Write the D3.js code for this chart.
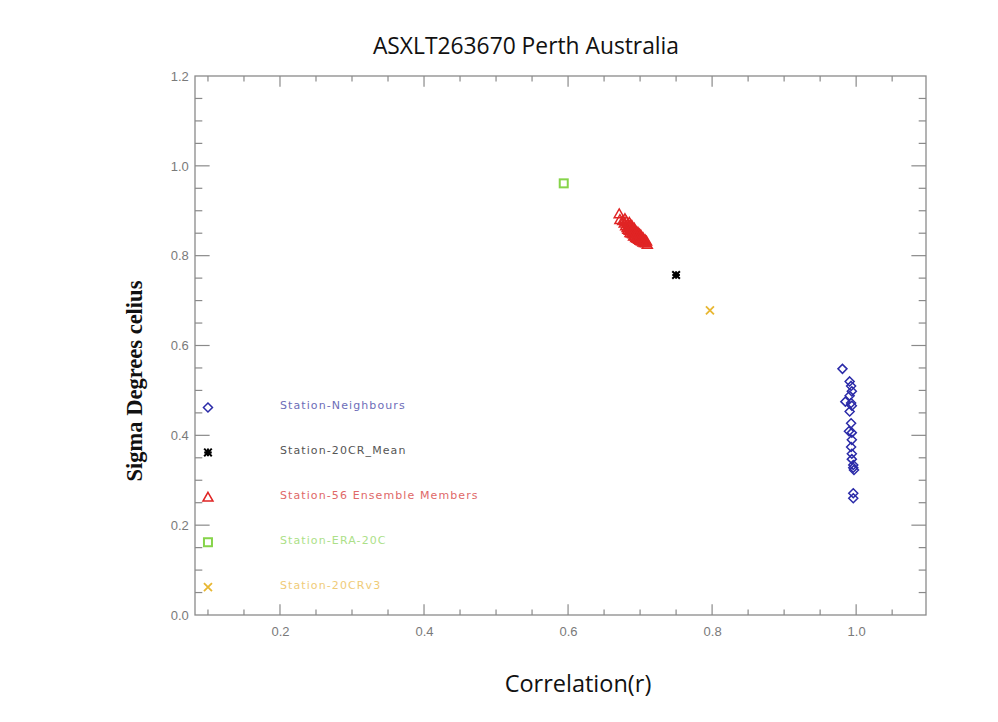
<!DOCTYPE html>
<html>
<head>
<meta charset="utf-8">
<script src="https://cdn.jsdelivr.net/npm/d3@7"></script>
<style>
  html, body { margin: 0; padding: 0; background: #fff; }
  svg { display: block; }
</style>
</head>
<body>
<svg id="chart" width="998" height="722"></svg>
<script>
// Station vs. neighbours / reanalyses: correlation and standard deviation
const titleText = "ASXLT263670 Perth Australia";
const xLabelText = "Correlation(r)";
const yLabelText = "Sigma Degrees celius";

const xTicks = [0.2, 0.4, 0.6, 0.8, 1.0];
const yTicks = [0.0, 0.2, 0.4, 0.6, 0.8, 1.0, 1.2];

// Station-Neighbours
const neighR = [0.981, 0.991, 0.993, 0.994, 0.991, 0.985, 0.993, 0.994, 0.991, 0.993, 0.990, 0.994,
                0.994, 0.993, 0.994, 0.994, 0.996, 0.997, 0.996, 0.996, 0.996];
const neighS = [0.548, 0.520, 0.510, 0.498, 0.488, 0.475, 0.472, 0.466, 0.453, 0.427, 0.409, 0.406,
                0.390, 0.374, 0.359, 0.347, 0.334, 0.323, 0.328, 0.271, 0.260];

// Station-56 Ensemble Members
const ensR = [0.671, 0.672, 0.676, 0.678, 0.679, 0.680, 0.681, 0.682, 0.683, 0.683, 0.684, 0.685,
              0.685, 0.686, 0.686, 0.687, 0.687, 0.688, 0.688, 0.689, 0.689, 0.690, 0.690, 0.691,
              0.691, 0.692, 0.692, 0.693, 0.693, 0.694, 0.694, 0.695, 0.695, 0.696, 0.696, 0.697,
              0.697, 0.698, 0.698, 0.699, 0.699, 0.700, 0.700, 0.701, 0.701, 0.702, 0.702, 0.703,
              0.704, 0.704, 0.705, 0.706, 0.707, 0.708, 0.709, 0.710];
const ensS = [0.893, 0.880, 0.878, 0.872, 0.882, 0.866, 0.876, 0.862, 0.871, 0.858, 0.866, 0.874,
              0.856, 0.865, 0.851, 0.869, 0.857, 0.863, 0.850, 0.857, 0.866, 0.848, 0.859, 0.854,
              0.843, 0.861, 0.849, 0.844, 0.856, 0.850, 0.840, 0.853, 0.844, 0.838, 0.849, 0.842,
              0.852, 0.836, 0.846, 0.839, 0.848, 0.834, 0.844, 0.837, 0.846, 0.832, 0.841, 0.836,
              0.830, 0.840, 0.834, 0.829, 0.835, 0.828, 0.832, 0.825];

// Single-value comparisons
const meanR = [0.750], meanS = [0.757];   // Station-20CR_Mean
const eraR = [0.594], eraS = [0.961];     // Station-ERA-20C
const v3R = [0.797], v3S = [0.678];       // Station-20CRv3

// Legend entries
const legendLabels = ["Station-Neighbours", "Station-20CR_Mean", "Station-56 Ensemble Members",
                      "Station-ERA-20C", "Station-20CRv3"];
const legendSymbols = ["diamond", "star", "triangle", "square", "cross"];
const legendR = [0.1, 0.1, 0.1, 0.1, 0.1];
const legendS = [0.462, 0.362, 0.262, 0.162, 0.062];
const legendTextR = 0.2;

const symbolColor = {
  diamond: "#2a2aa8", star: "#000000", triangle: "#e02424", square: "#86d44a", cross: "#e8b732"
};
const textColor = ["#6d6db8", "#555555", "#e06868", "#acdf88", "#f0cb78"];

const svg = d3.select("#chart");

const x = d3.scaleLinear().domain([0.082, 1.097]).range([195, 926]);
const y = d3.scaleLinear().domain([0, 1.2]).range([615, 76]);

const axisColor = "#8a8a8a";
const labelColor = "#7a7a7a";

// Plot frame
const g = svg.append("g");
g.append("rect")
  .attr("x", x.range()[0]).attr("y", y.range()[1])
  .attr("width", x.range()[1] - x.range()[0])
  .attr("height", y.range()[0] - y.range()[1])
  .attr("fill", "none").attr("stroke", axisColor).attr("stroke-width", 1.3);

const plotW = x.range()[1] - x.range()[0];
const plotH = y.range()[0] - y.range()[1];
const xMajorLen = 0.02 * plotH, yMajorLen = 0.02 * plotW;

const xMinor = d3.range(2, 22).map(i => i * 0.05);
const yMinor = d3.range(1, 24).map(i => i * 0.05);
const isMajor = (v, majors) => majors.some(m => Math.abs(m - v) < 1e-6);

function tickLines(sel, vals, majors, fn) {
  vals.forEach(v => fn(sel, v, isMajor(v, majors)));
}

// Axis labels via d3 axes; tick marks drawn inward on all four sides
const xAxisBottom = d3.axisBottom(x).tickValues(xTicks).tickSize(0).tickFormat(d3.format(".1f"));
const xa = g.append("g").attr("transform", `translate(0,${y.range()[0]})`).call(xAxisBottom);
xa.select(".domain").remove();
xa.selectAll("text").attr("dy", "1.35em").attr("fill", labelColor)
  .style("font-family", "'Liberation Sans', Arial, sans-serif").style("font-size", "13px");

const yAxisLeft = d3.axisLeft(y).tickValues(yTicks).tickSize(0).tickFormat(d3.format(".1f"));
const ya = g.append("g").attr("transform", `translate(${x.range()[0]},0)`).call(yAxisLeft);
ya.select(".domain").remove();
ya.selectAll("text").attr("dx", "-0.25em").attr("fill", labelColor)
  .style("font-family", "'Liberation Sans', Arial, sans-serif").style("font-size", "13px");

const ticks = g.append("g").attr("stroke", axisColor).attr("stroke-width", 1.2);
tickLines(ticks, xMinor, xTicks, (s, v, maj) => {
  const L = maj ? xMajorLen : xMajorLen / 2;
  s.append("line").attr("x1", x(v)).attr("x2", x(v)).attr("y1", y.range()[0]).attr("y2", y.range()[0] - L);
  s.append("line").attr("x1", x(v)).attr("x2", x(v)).attr("y1", y.range()[1]).attr("y2", y.range()[1] + L);
});
tickLines(ticks, yMinor, yTicks, (s, v, maj) => {
  const L = maj ? yMajorLen : yMajorLen / 2;
  s.append("line").attr("y1", y(v)).attr("y2", y(v)).attr("x1", x.range()[0]).attr("x2", x.range()[0] + L);
  s.append("line").attr("y1", y(v)).attr("y2", y(v)).attr("x1", x.range()[1]).attr("x2", x.range()[1] - L);
});

// Marker shapes
function drawMarker(sel, type, cx, cy) {
  const c = symbolColor[type];
  if (type === "diamond") {
    const r = 4.5;
    sel.append("path").attr("d", `M${cx},${cy - r}L${cx + r},${cy}L${cx},${cy + r}L${cx - r},${cy}Z`)
      .attr("fill", "none").attr("stroke", c).attr("stroke-width", 1.5);
  } else if (type === "triangle") {
    const r = 5;
    sel.append("path").attr("d", `M${cx},${cy - r}L${cx + r},${cy + r * 0.75}L${cx - r},${cy + r * 0.75}Z`)
      .attr("fill", "none").attr("stroke", c).attr("stroke-width", 1.5);
  } else if (type === "square") {
    const r = 4;
    sel.append("rect").attr("x", cx - r).attr("y", cy - r).attr("width", 2 * r).attr("height", 2 * r)
      .attr("fill", "none").attr("stroke", c).attr("stroke-width", 2);
  } else if (type === "cross") {
    const r = 4;
    sel.append("path").attr("d", `M${cx - r},${cy - r}L${cx + r},${cy + r}M${cx - r},${cy + r}L${cx + r},${cy - r}`)
      .attr("stroke", c).attr("stroke-width", 1.8);
  } else if (type === "star") {
    const r = 3.8;
    sel.append("path").attr("d",
      `M${cx - r},${cy - r}L${cx + r},${cy + r}M${cx - r},${cy + r}L${cx + r},${cy - r}` +
      `M${cx},${cy - r}L${cx},${cy + r}M${cx - r},${cy}L${cx + r},${cy}`)
      .attr("stroke", c).attr("stroke-width", 2);
    sel.append("rect").attr("x", cx - 2.2).attr("y", cy - 2.2).attr("width", 4.4).attr("height", 4.4).attr("fill", c);
  }
}

const marks = svg.append("g");
neighR.forEach((r, i) => drawMarker(marks, "diamond", x(r), y(neighS[i])));
ensR.forEach((r, i) => drawMarker(marks, "triangle", x(r), y(ensS[i])));
meanR.forEach((r, i) => drawMarker(marks, "star", x(r), y(meanS[i])));
eraR.forEach((r, i) => drawMarker(marks, "square", x(r), y(eraS[i])));
v3R.forEach((r, i) => drawMarker(marks, "cross", x(r), y(v3S[i])));

// Legend
const leg = svg.append("g");
legendLabels.forEach((lab, i) => {
  drawMarker(leg, legendSymbols[i], x(legendR[i]), y(legendS[i]));
  leg.append("text")
    .attr("x", x(legendTextR)).attr("y", y(legendS[i]) - 2)
    .attr("dy", "0.35em")
    .attr("fill", textColor[i])
    .style("font-family", "'DejaVu Sans', sans-serif")
    .style("font-size", "11px")
    .style("letter-spacing", "1.1px")
    .text(lab);
});

// Title and axis labels
svg.append("text").attr("x", 526).attr("y", 54).attr("text-anchor", "middle")
  .style("font-family", "'Open Sans', sans-serif").style("font-size", "22.8px").attr("fill", "#111")
  .text(titleText);

svg.append("text").attr("x", 578).attr("y", 692).attr("text-anchor", "middle")
  .style("font-family", "'Open Sans', sans-serif").style("font-size", "23.5px").attr("fill", "#111")
  .text(xLabelText);

svg.append("text").attr("transform", "translate(142,381) rotate(-90)").attr("text-anchor", "middle")
  .style("font-family", "'Liberation Serif', 'Times New Roman', serif").style("font-size", "22.5px")
  .style("font-weight", "bold").attr("fill", "#111")
  .text(yLabelText);
</script>
</body>
</html>
